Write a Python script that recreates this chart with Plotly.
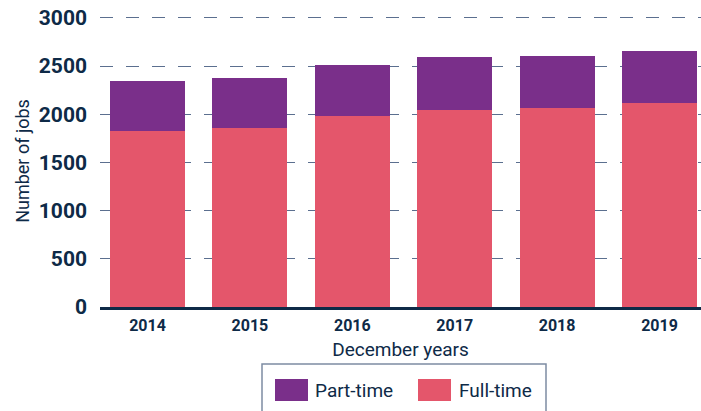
import plotly.graph_objects as go

years = ["2014", "2015", "2016", "2017", "2018", "2019"]
full_time = [1827, 1858, 1983, 2045, 2066, 2118]
part_time = [519, 519, 529, 550, 540, 540]
y_ticks = [0, 500, 1000, 1500, 2000, 2500, 3000]

NAVY = "#0e2a47"
PURPLE = "#7a2f8a"
PINK = "#e4566b"
FONT = "Roboto"

fig = go.Figure()
fig.add_trace(go.Bar(x=years, y=full_time, name="Full-time", marker_color=PINK,
                     marker_line_width=0, showlegend=False))
fig.add_trace(go.Bar(x=years, y=part_time, name="Part-time", marker_color=PURPLE,
                     marker_line_width=0, showlegend=False))

W, H = 701, 411
L, R, T, B = 100, 0, 15, 104
pw, ph = W - L - R, H - T - B


def px(x):  # pixel -> paper x
    return (x - L) / pw


def py(y):  # pixel -> paper y
    return (H - B - y) / ph


shapes = [
    dict(type="rect", xref="paper", yref="paper", x0=px(262), x1=px(546), y0=py(364), y1=py(420),
         line=dict(color="#7d8ca3", width=1.5), fillcolor="rgba(0,0,0,0)", layer="above"),
    dict(type="rect", xref="paper", yref="paper", x0=px(275), x1=px(308), y0=py(379), y1=py(401),
         line=dict(width=0), fillcolor=PURPLE),
    dict(type="rect", xref="paper", yref="paper", x0=px(418), x1=px(451), y0=py(379), y1=py(401),
         line=dict(width=0), fillcolor=PINK),
]
annotations = [
    dict(xref="paper", yref="paper", x=px(313), y=py(390), text="Part-time", showarrow=False,
         xanchor="left", yanchor="middle", font=dict(family=FONT, size=19, color=NAVY)),
    dict(xref="paper", yref="paper", x=px(457), y=py(390), text="Full-time", showarrow=False,
         xanchor="left", yanchor="middle", font=dict(family=FONT, size=19, color=NAVY)),
]

fig.update_layout(
    width=W, height=H,
    margin=dict(l=L, r=R, t=T, b=B, autoexpand=False),
    barmode="stack",
    bargap=0.268,
    plot_bgcolor="white", paper_bgcolor="white",
    font=dict(family=FONT, color=NAVY),
    shapes=shapes,
    annotations=annotations,
    xaxis=dict(
        type="category", range=[-0.464, 5.405], automargin=False,
        showline=True, linecolor=NAVY, linewidth=2.5,
        showgrid=False, ticks="",
        tickfont=dict(family=FONT, size=16, color=NAVY, weight="bold"),
        ticklabelstandoff=2,
        title=dict(text="December years", font=dict(family=FONT, size=19, color=NAVY), standoff=9),
    ),
    yaxis=dict(
        range=[0, 3030], tickvals=y_ticks, ticktext=[str(v) for v in y_ticks], automargin=False,
        showgrid=True, gridcolor="#5b6f8f", gridwidth=1.3, griddash="13px,13px",
        zeroline=False, showline=False, ticks="",
        tickfont=dict(family=FONT, size=21, color=NAVY, weight="bold"),
        ticklabelstandoff=12, ticklabeloverflow="allow",
        title=dict(text="Number of jobs", font=dict(family=FONT, size=18, color=NAVY), standoff=4),
    ),
)

fig.write_html(
    "out.html",
    config={"displayModeBar": False},
    post_script="document.body.style.margin='0';document.body.style.overflow='hidden';",
)
